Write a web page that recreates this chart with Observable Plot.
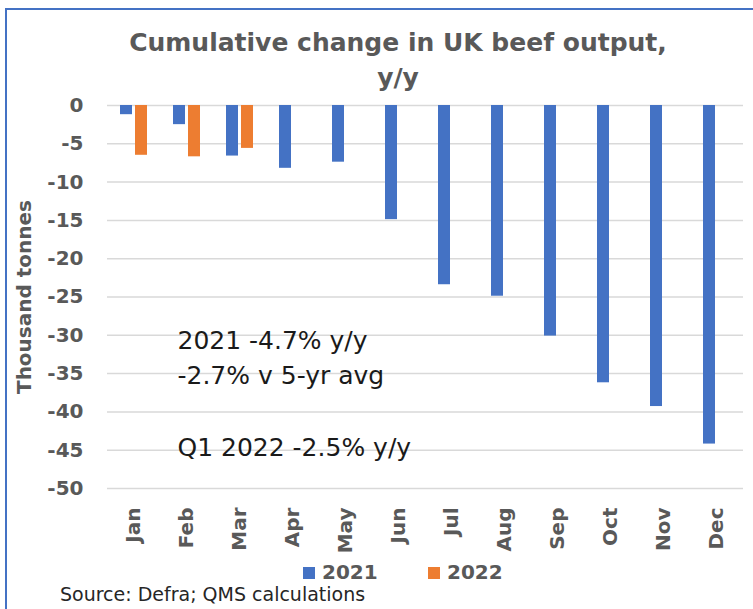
<!DOCTYPE html>
<html>
<head>
<meta charset="utf-8">
<script src="https://cdn.jsdelivr.net/npm/d3@7"></script>
<script src="https://cdn.jsdelivr.net/npm/@observablehq/plot@0.6"></script>
<style>
  html, body { margin: 0; padding: 0; }
  body { width: 753px; height: 609px; overflow: hidden; background: #fff; position: relative; font-family: "DejaVu Sans", sans-serif; }
  #frame { position: absolute; left: 5px; top: 8px; width: 760px; height: 620px; border-left: 2px solid #4472C4; border-top: 2px solid #4472C4; }
  #title { position: absolute; left: 398px; top: 25px; transform: translateX(-50%); white-space: nowrap; text-align: center;
           font-size: 25px; line-height: 35px; font-weight: bold; color: #595959; }
  #chart { position: absolute; left: 0; top: 95px; }
  #legend .sw { position: absolute; width: 12px; height: 12px; top: 567px; }
  #legend .lb { position: absolute; top: 562px; font-size: 20px; line-height: 20px; font-weight: bold; color: #595959; }
  #source { position: absolute; left: 60px; top: 584px; font-size: 19px; line-height: 20px; color: #262626; white-space: nowrap; }
</style>
</head>
<body>
<div id="frame"></div>
<div id="title">Cumulative change in UK beef output,<br>y/y</div>
<div id="chart"></div>
<div id="legend"></div>
<div id="source">Source: Defra; QMS calculations</div>
<script>
const months = ["Jan", "Feb", "Mar", "Apr", "May", "Jun", "Jul", "Aug", "Sep", "Oct", "Nov", "Dec"];
const years = ["2021", "2022"];
const output2021 = [-1.2, -2.5, -6.6, -8.2, -7.4, -14.9, -23.4, -24.9, -30.1, -36.2, -39.3, -44.2];
const output2022 = [-6.5, -6.7, -5.6];
const yTicks = [0, -5, -10, -15, -20, -25, -30, -35, -40, -45, -50];
const seriesColors = ["#4472C4", "#ED7D31"];
const notes = ["2021 -4.7% y/y", "-2.7% v 5-yr avg", "Q1 2022 -2.5% y/y"];
const noteMonth = ["Feb", "Feb", "Feb"];
const noteY = [-31.85, -36.3, -45.7];

const rows = [
  ...output2021.map((v, i) => ({month: months[i], year: years[0], value: v})),
  ...output2022.map((v, i) => ({month: months[i], year: years[1], value: v}))
];
const noteRows = notes.map((t, i) => ({text: t, month: noteMonth[i], y: noteY[i]}));

const chart = Plot.plot({
  width: 753,
  height: 458,
  marginTop: 10,
  marginBottom: 65,
  marginLeft: 107,
  marginRight: 10,
  style: {fontFamily: "DejaVu Sans", color: "#595959", background: "transparent", overflow: "visible"},
  x: {domain: months, padding: 0},
  y: {domain: [-50, 0]},
  color: {domain: years, range: seriesColors},
  marks: [
    Plot.gridY({ticks: yTicks, stroke: "#d9d9d9", strokeOpacity: 1, strokeWidth: 1.5}),
    Plot.barY(rows, {filter: d => d.year === years[0], x: "month", y: "value", fill: "year", dx: -7.5, insetLeft: 20.5, insetRight: 20.5}),
    Plot.barY(rows, {filter: d => d.year === years[1], x: "month", y: "value", fill: "year", dx: 7.5, insetLeft: 20.5, insetRight: 20.5}),
    Plot.axisY({ticks: yTicks, tickSize: 0, tickPadding: 24, tickFormat: d => String(d), fontSize: 20, fontWeight: "bold",
                label: "Thousand tonnes", labelAnchor: "center", labelOffset: 91, labelArrow: "none"}),
    Plot.axisX({tickRotate: -90, tickSize: 0, tickPadding: 19, fontSize: 20, fontWeight: "bold", label: null}),
    Plot.text(noteRows, {x: "month", y: "y", text: "text", textAnchor: "start", lineAnchor: "bottom", dx: -9.5,
                         fontSize: 25, fill: "#1a1a1a"})
  ]
});
document.getElementById("chart").appendChild(chart);

// legend built from the same series arrays
const legend = document.getElementById("legend");
const legendX = [303, 428];
years.forEach((y, i) => {
  const sw = document.createElement("div");
  sw.className = "sw";
  sw.style.left = legendX[i] + "px";
  sw.style.background = seriesColors[i];
  legend.appendChild(sw);
  const lb = document.createElement("div");
  lb.className = "lb";
  lb.style.left = (legendX[i] + 19) + "px";
  lb.textContent = y;
  legend.appendChild(lb);
});
</script>
</body>
</html>
